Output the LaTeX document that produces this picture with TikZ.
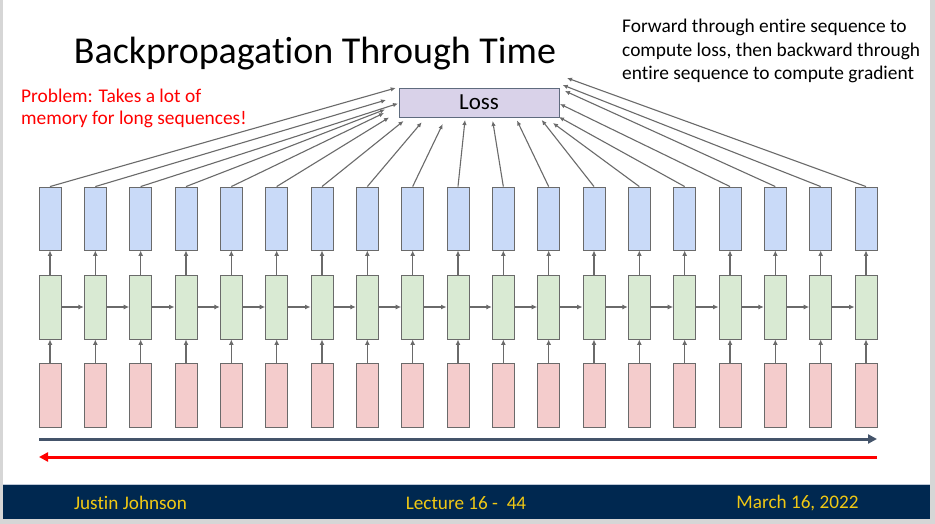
\documentclass[tikz,border=0pt]{standalone}
\usepackage{fontspec}
\setmainfont{Carlito}[Ligatures={NoCommon}]
\usetikzlibrary{arrows.meta}
\definecolor{bluef}{HTML}{C9DAF8}
\definecolor{greenf}{HTML}{D9EAD3}
\definecolor{redf}{HTML}{F4CCCC}
\definecolor{lossf}{HTML}{D9D2E9}
\definecolor{lossd}{HTML}{5F6B7E}
\definecolor{edge}{HTML}{6A6A6A}
\definecolor{navy}{HTML}{002850}
\definecolor{gold}{HTML}{F0C814}
\definecolor{slate}{HTML}{44546A}
\definecolor{frame}{HTML}{D6D6D6}
\definecolor{barline}{HTML}{BEC8D7}
\tikzset{
  cell/.style={draw=edge, line width=0.9pt, minimum width=22pt, inner sep=0pt},
  bluebox/.style={cell, fill=bluef, minimum height=63pt},
  greenbox/.style={cell, fill=greenf, minimum height=64pt},
  redbox/.style={cell, fill=redf, minimum height=64pt},
  conn/.style={draw=edge, line width=1.1pt, -{Latex[length=5pt,width=4.5pt]}},
  thin/.style={draw=edge, line width=1.1pt, -{Latex[length=5.5pt,width=5pt]}},
  txt/.style={inner sep=0pt, anchor=base west, font=\fontsize{19.4}{23}\selectfont},
  foot/.style={inner sep=0pt, text=gold, font=\fontsize{19.2}{20}\selectfont}
}
\begin{document}
\begin{tikzpicture}[x=1pt,y=-1pt]
\useasboundingbox (0,0) rectangle (935,524);
\fill[frame] (0,0) rectangle (935,524);
\fill[white] (3,0) rectangle (930,519);
\fill[navy] (3,485) rectangle (930,519);
\draw[barline, line width=1pt] (3,484.5) -- (930,484.5);

\node[inner sep=0pt, anchor=base, font=\fontsize{38}{38}\selectfont] (title) at (315,63.3) {Backpropagation Through Time};
\node[txt] (note1) at (622,32.7) {Forward through entire sequence to};
\node[txt] (note2) at (622,56.5) {compute loss, then backward through};
\node[txt] (note3) at (622,80) {entire sequence to compute gradient};
\node[txt, text=red] (prob1) at (21,102.7) {Problem: Takes a lot of};
\node[txt, text=red] (prob2) at (21,124.3) {memory for long sequences!};

\node[draw=lossd, fill=lossf, line width=0.9pt, minimum width=160pt, minimum height=29pt, inner sep=0pt, font=\fontsize{23}{23}\selectfont] (loss) at (479,102.5) {Loss};

\foreach \i in {1,...,19}{
  \pgfmathsetmacro\cx{50+45.333*(\i-1)}
  \node[bluebox] (b\i) at (\cx,218.5) {};
  \node[greenbox] (g\i) at (\cx,307) {};
  \node[redbox] (r\i) at (\cx,395) {};
  \draw[thin] (r\i) -- (g\i);
  \draw[thin] (g\i) -- (b\i);
}
\foreach \i [evaluate=\i as \j using int(\i+1)] in {1,...,18}{
  \draw[thin] (g\i) -- (g\j);
}
\foreach \i/\ex/\ey in {1/395.7/88, 2/386/100, 3/398/103.5, 4/385/109.5, 5/384/113,
  6/389/117.5, 7/403.5/121, 8/421.7/122.3, 9/442.7/124, 10/465/120, 11/492.7/121,
  12/517/120.5, 13/541.7/120, 14/553/123, 15/559/117, 16/560/104, 17/565/91,
  18/562.7/85, 19/567/78}{
  \coordinate (e\i) at (\ex,\ey);
  \draw[conn] (b\i.north) -- (e\i);
}

\coordinate (fa) at (39,439);
\coordinate (fb) at (877,439);
\coordinate (ba) at (877,457);
\coordinate (bb) at (39,457);
\draw[slate, line width=3pt, -{Triangle[length=9pt,width=9pt]}] (fa) -- (fb);
\draw[red, line width=3pt, -{Triangle[length=9pt,width=9pt]}] (ba) -- (bb);

\node[foot] (author) at (130.5,503) {Justin Johnson};
\node[foot] (lecture) at (466,503) {Lecture 16 -\ \ 44};
\node[foot] (date) at (797.5,503) {March 16, 2022};
\end{tikzpicture}
\end{document}
